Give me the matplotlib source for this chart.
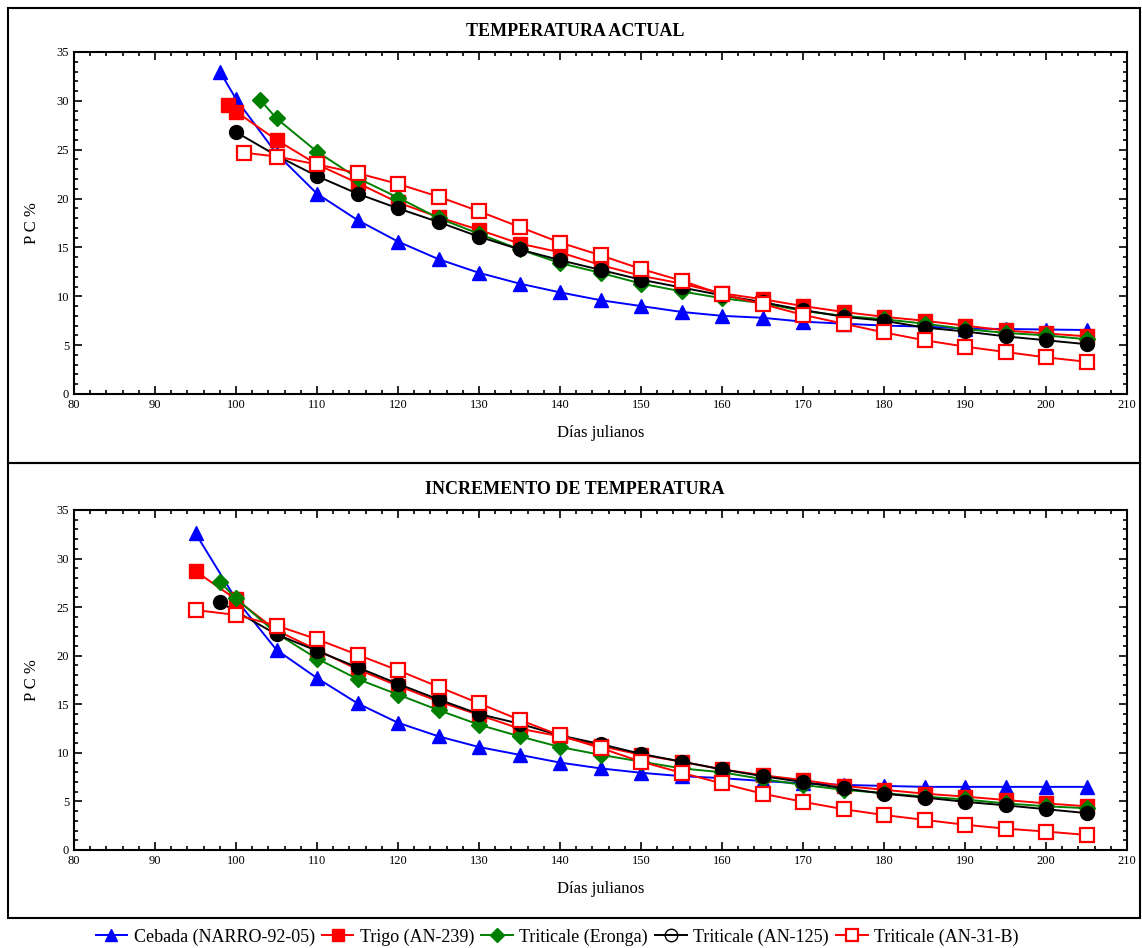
import matplotlib
matplotlib.use("Agg")
import matplotlib.pyplot as plt
from matplotlib.lines import Line2D
from matplotlib.patches import Rectangle
from matplotlib.ticker import MultipleLocator

plt.rcParams['font.family'] = ['Liberation Serif', 'DejaVu Serif']

days = list(range(105, 210, 5))

# TEMPERATURA ACTUAL
cebada_top_x = [98, 100] + days
cebada_top_y = [33.0, 30.2, 24.6, 20.5, 17.8, 15.6, 13.8, 12.4, 11.3, 10.4, 9.6, 9.0,
                8.4, 8.0, 7.8, 7.4, 7.2, 7.0, 6.9, 6.7, 6.65, 6.6, 6.55]
trigo_top_x = [99, 100] + days
trigo_top_y = [29.6, 28.9, 26.0, 23.5, 21.6, 19.6, 18.1, 16.8, 15.4, 14.5, 13.2, 12.1,
               11.3, 10.3, 9.7, 9.0, 8.4, 7.9, 7.5, 7.0, 6.5, 6.2, 5.9]
eronga_top_x = [103] + days
eronga_top_y = [30.1, 28.2, 24.8, 22.1, 20.1, 18.0, 16.4, 14.8, 13.4, 12.4, 11.3, 10.5,
                9.8, 9.3, 8.5, 8.0, 7.65, 7.2, 6.65, 6.25, 6.0, 5.6]
an125_top_x = [100] + days
an125_top_y = [26.8, 24.4, 22.3, 20.5, 19.0, 17.6, 16.1, 14.8, 13.7, 12.7, 11.7, 10.9,
               10.1, 9.4, 8.6, 7.9, 7.5, 6.8, 6.4, 5.9, 5.5, 5.1]
an31_top_x = [101] + days
an31_top_y = [24.7, 24.3, 23.5, 22.6, 21.5, 20.2, 18.7, 17.1, 15.5, 14.2, 12.8, 11.6,
              10.2, 9.2, 8.1, 7.2, 6.3, 5.5, 4.85, 4.3, 3.75, 3.3]

# INCREMENTO DE TEMPERATURA
cebada_bot_x = [95, 100] + days
cebada_bot_y = [32.6, 25.8, 20.6, 17.7, 15.1, 13.1, 11.7, 10.6, 9.8, 9.0, 8.4, 7.95,
                7.6, 7.4, 7.1, 6.85, 6.7, 6.6, 6.5, 6.5, 6.5, 6.5, 6.5]
trigo_bot_x = [95, 100] + days
trigo_bot_y = [28.7, 25.8, 22.6, 20.6, 18.6, 16.9, 15.3, 13.9, 12.5, 11.7, 10.7, 9.8,
               9.1, 8.3, 7.7, 7.2, 6.6, 6.2, 5.8, 5.5, 5.15, 4.8, 4.5]
eronga_bot_x = [98, 100] + days
eronga_bot_y = [27.6, 25.9, 22.3, 19.7, 17.6, 16.0, 14.4, 12.9, 11.7, 10.6, 9.8, 9.1,
                8.4, 8.0, 7.3, 6.7, 6.2, 5.85, 5.5, 5.2, 4.8, 4.5, 4.3]
an125_bot_x = [98] + days
an125_bot_y = [25.5, 22.2, 20.5, 18.8, 17.1, 15.5, 14.0, 13.0, 11.8, 10.9, 9.9, 9.1,
               8.3, 7.6, 7.0, 6.35, 5.8, 5.4, 4.96, 4.6, 4.2, 3.8]
an31_bot_x = [95, 100] + days
an31_bot_y = [24.7, 24.2, 23.1, 21.7, 20.1, 18.5, 16.8, 15.1, 13.4, 11.8, 10.5, 9.1,
              7.95, 6.85, 5.8, 4.96, 4.2, 3.6, 3.1, 2.6, 2.2, 1.9, 1.55]

labels = ["Cebada (NARRO-92-05)", "Trigo (AN-239)", "Triticale (Eronga)",
          "Triticale (AN-125)", "Triticale (AN-31-B)"]

styles = [
    dict(color="blue", marker="^", markersize=10, mfc="blue", mec="blue"),
    dict(color="red", marker="s", markersize=10, mfc="red", mec="red"),
    dict(color="green", marker="D", markersize=8, mfc="green", mec="green"),
    dict(color="black", marker="o", markersize=10, mfc="black", mec="black"),
    dict(color="red", marker="s", markersize=10, mfc="white", mec="red", mew=1.6),
]

panels = [
    ("TEMPERATURA ACTUAL",
     [(cebada_top_x, cebada_top_y), (trigo_top_x, trigo_top_y), (eronga_top_x, eronga_top_y),
      (an125_top_x, an125_top_y), (an31_top_x, an31_top_y)]),
    ("INCREMENTO DE TEMPERATURA",
     [(cebada_bot_x, cebada_bot_y), (trigo_bot_x, trigo_bot_y), (eronga_bot_x, eronga_bot_y),
      (an125_bot_x, an125_bot_y), (an31_bot_x, an31_bot_y)]),
]

fig = plt.figure(figsize=(11.42, 9.48), dpi=100)
W, H = 1142, 948

# outer frames around each panel
for y0, y1 in [(8, 463), (463, 918)]:
    fig.add_artist(Rectangle((8 / W, 1 - y1 / H), (1140 - 8) / W, (y1 - y0) / H,
                             transform=fig.transFigure, fill=False, lw=1.5, ec="black"))

axes_pos = [(52, 394), (510, 850)]
title_y = [32, 490]
for (title, series), (top, bottom), ty in zip(panels, axes_pos, title_y):
    ax = fig.add_axes([74 / W, 1 - bottom / H, (1127 - 74) / W, (bottom - top) / H])
    for (x, y), st in zip(series, styles):
        ax.plot(x, y, lw=1.4, **st)
    ax.set_xlim(80, 210)
    ax.set_ylim(0, 35)
    ax.xaxis.set_major_locator(MultipleLocator(10))
    ax.xaxis.set_minor_locator(MultipleLocator(2))
    ax.yaxis.set_major_locator(MultipleLocator(5))
    ax.yaxis.set_minor_locator(MultipleLocator(1))
    ax.tick_params(which="both", direction="in", top=True, right=True, labelsize=9, width=1.2)
    ax.tick_params(which="major", length=6)
    ax.tick_params(which="minor", length=3)
    for sp in ax.spines.values():
        sp.set_linewidth(1.5)
    fig.text(575 / W, 1 - ty / H, title, fontsize=13, fontweight="bold",
             ha="center", va="center")
    ax.set_xlabel("Días julianos", fontsize=12, labelpad=10)
    ax.set_ylabel("P C %", fontsize=12, labelpad=12)

handles = []
for lab, st in zip(labels, styles):
    st = dict(st)
    if lab == "Triticale (AN-125)":
        st.update(mfc="none", mew=1.0)
    handles.append(Line2D([], [], lw=1.4, label=lab, **st))
fig.legend(handles=handles, loc="center", bbox_to_anchor=(557 / W, 1 - 937 / H), ncol=5,
           frameon=False, fontsize=13, handlelength=1.75, handletextpad=0.35,
           columnspacing=0.4, markerscale=0.9, borderpad=0)

fig.savefig("out.png", dpi=100)
